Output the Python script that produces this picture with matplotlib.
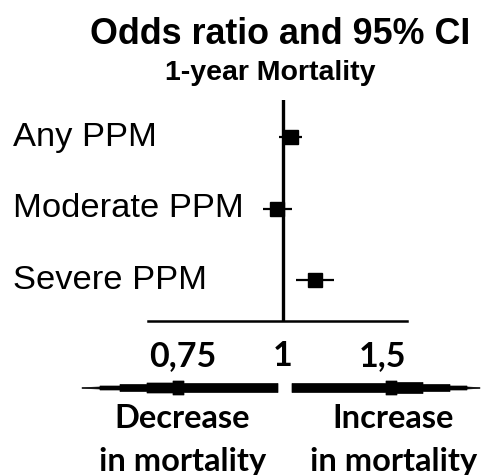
import matplotlib
matplotlib.use("Agg")
import matplotlib.pyplot as plt
import numpy as np
from matplotlib.patches import Polygon
from matplotlib.transforms import blended_transform_factory, Affine2D

categories = ["Any PPM", "Moderate PPM", "Severe PPM"]
odds_ratio = [1.04, 0.985, 1.16]
ci_low = [0.99, 0.95, 1.065]
ci_high = [1.095, 1.045, 1.255]
tick_values = [0.75, 1.0, 1.5]
tick_labels = ["0,75", "1", "1,5"]

W, H = 483, 475
fig = plt.figure(figsize=(W / 100, H / 100), dpi=100)

def px_rect(left, top, right, bottom):
    return [left / W, 1 - bottom / H, (right - left) / W, (bottom - top) / H]

ax = fig.add_axes(px_rect(148, 100, 407, 321))

def fwd(x):
    x = np.asarray(x, dtype=float)
    return np.where(x < 1, (x - 1) * 4, (x - 1) * 2)

def inv(y):
    y = np.asarray(y, dtype=float)
    return np.where(y < 0, 1 + y / 4, 1 + y / 2)

ax.set_xscale("function", functions=(fwd, inv))
ax.set_xlim(0.6625, 1.62)
ax.set_ylim(0.43, 3.52)

ypos = np.arange(len(categories))[::-1] + 1
ax.axvline(1.0, color="black", lw=2.4, zorder=1)
for yv, o, lo, hi in zip(ypos, odds_ratio, ci_low, ci_high):
    ax.plot([lo, hi], [yv, yv], color="black", lw=1.6, zorder=2, solid_capstyle="butt")
    ax.plot([o], [yv], marker="s", ms=9.5, color="black", zorder=3)

for s in ["top", "right", "left"]:
    ax.spines[s].set_visible(False)
ax.spines["bottom"].set_linewidth(1.8)
ax.set_yticks([])
ax.set_xticks(tick_values)
ax.set_xticklabels(tick_labels, fontfamily="Lato", fontweight="bold", fontsize=24.5)
ax.tick_params(axis="x", length=0, pad=14)

tr = blended_transform_factory(fig.transFigure, ax.transData)
for yv, lab in zip(ypos, categories):
    ax.text(13 / W, yv, lab, transform=tr, ha="left", va="center",
            fontfamily="Liberation Sans", fontsize=24.8, clip_on=False)

fig.text(280 / W, 1 - 34 / H, "Odds ratio and 95% CI", ha="center", va="center",
         fontfamily="Liberation Sans", fontweight="bold", fontsize=25.8)
fig.text(270 / W, 1 - 73 / H, "1-year Mortality", ha="center", va="center",
         fontfamily="Liberation Sans", fontweight="bold", fontsize=20.5)

# arrows in pixel coordinates (y from top)
ptr = Affine2D().scale(1 / W, -1 / H).translate(0, 1) + fig.transFigure
yc = 388
right_prof = [(292, 4.5), (386, 4.5), (386, 7), (397, 7), (397, 5.5), (423, 5.5),
              (423, 3.5), (450, 3.5), (450, 2), (467, 2), (467, 1), (480, 0.3)]
left_prof = [(278, 4.5), (184, 4.5), (184, 7), (173, 7), (173, 5), (147, 5),
             (147, 3.5), (120, 3.5), (120, 2), (100, 2), (100, 1), (82, 0.3)]
for prof in (right_prof, left_prof):
    top = [(x, yc - h) for x, h in prof]
    bot = [(x, yc + h) for x, h in prof[::-1]]
    fig.patches.append(Polygon(top + bot, closed=True, transform=ptr,
                               facecolor="black", edgecolor="black", lw=0.5))

for cx, word in [(182, "Decrease"), (393, "Increase")]:
    fig.text(cx / W, 1 - 418 / H, word, ha="center", va="center",
             fontfamily="Lato", fontweight="bold", fontsize=23.5)
    fig.text((cx + 1) / W, 1 - 461 / H, "in mortality", ha="center", va="center",
             fontfamily="Lato", fontweight="bold", fontsize=23.5)

fig.savefig("out.png", dpi=100, facecolor="white")
